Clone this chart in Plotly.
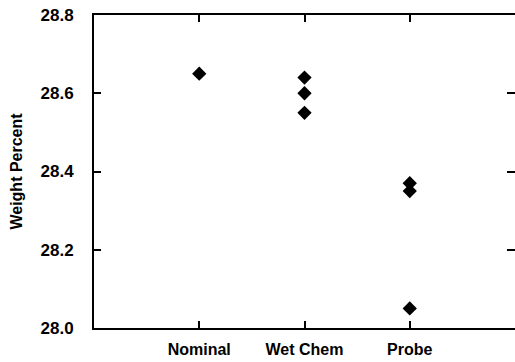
import plotly.graph_objects as go

# Measured weight percent by method
categories = ["Nominal", "Wet Chem", "Probe"]
nominal_vals = [28.65]
wetchem_vals = [28.64, 28.60, 28.55]
probe_vals = [28.37, 28.35, 28.05]
y_ticks = [28.0, 28.2, 28.4, 28.6, 28.8]
y_tick_text = ["28.0", "28.2", "28.4", "28.6", "28.8"]

cat_pos = {c: i + 1 for i, c in enumerate(categories)}
xs, ys = [], []
for cat, vals in zip(categories, [nominal_vals, wetchem_vals, probe_vals]):
    xs += [cat_pos[cat]] * len(vals)
    ys += vals

FAMILY = "Liberation Sans, Arial, sans-serif"

fig = go.Figure()
fig.add_trace(go.Scatter(
    x=xs, y=ys, mode="markers",
    marker=dict(symbol="diamond", size=11, color="black", line=dict(width=0)),
    showlegend=False,
))
# invisible trace that carries the right-hand tick marks
fig.add_trace(go.Scatter(x=[None], y=[None], yaxis="y2", showlegend=False))

fig.update_layout(
    width=515, height=362,
    margin=dict(l=94, r=0, t=15, b=34),
    paper_bgcolor="white", plot_bgcolor="white",
    font=dict(family=FAMILY, size=14, color="black", weight="bold"),
    xaxis=dict(
        range=[0, 4],
        tickvals=[cat_pos[c] for c in categories],
        ticktext=categories,
        ticks="inside", ticklen=7, tickwidth=2, tickcolor="black",
        showline=True, linewidth=2, linecolor="black",
        mirror="ticks", showgrid=False, zeroline=False,
        tickfont=dict(family=FAMILY, size=16, color="black", weight="bold"),
        ticklabelstandoff=6,
    ),
    yaxis=dict(
        range=[28.0, 28.8],
        tickvals=y_ticks, ticktext=y_tick_text,
        ticks="inside", ticklen=7, tickwidth=2, tickcolor="black",
        showline=True, linewidth=2, linecolor="black",
        showgrid=False, zeroline=False,
        tickfont=dict(family=FAMILY, size=17, color="black", weight="bold"),
        ticklabelstandoff=15,
        title=dict(text="Weight Percent", standoff=14,
                   font=dict(family=FAMILY, size=16, color="black", weight="bold")),
    ),
    yaxis2=dict(
        range=[28.0, 28.8], overlaying="y", side="right",
        tickvals=y_ticks, ticks="inside", ticklen=8, tickwidth=2, tickcolor="black",
        showticklabels=False, showline=False, showgrid=False, zeroline=False,
    ),
)

fig.write_html("out.html")
